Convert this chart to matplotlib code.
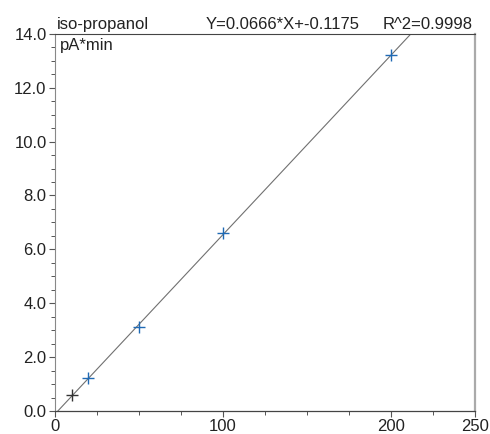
import matplotlib.pyplot as plt
from matplotlib.ticker import MultipleLocator, FixedLocator

plt.rcParams['font.family'] = ['Liberation Sans', 'DejaVu Sans']

# calibration data
amount = [10, 20, 50, 100, 200]
area = [0.60, 1.22, 3.12, 6.60, 13.20]
point_colors = ['#333333', '#1f6ab5', '#1f6ab5', '#1f6ab5', '#1f6ab5']
slope = 0.0666
offset = -0.1175
r2 = 0.9998
compound = 'iso-propanol'
unit = 'pA*min'
x_major = [0, 100, 200, 250]
y_major = [0, 2, 4, 6, 8, 10, 12, 14]


def main():
    fig = plt.figure(figsize=(4.9, 4.34), dpi=100)
    ax = fig.add_axes([0.112, 0.053, 0.857, 0.869])

    # regression line clipped to the plot box
    x0 = -offset / slope
    x1 = (14 - offset) / slope
    ax.plot([x0, x1], [slope * x0 + offset, slope * x1 + offset],
            color='#707070', lw=0.8, zorder=2)

    for x, y, c in zip(amount, area, point_colors):
        ax.plot(x, y, marker='+', ms=8.5, mew=1.0, color=c, ls='none', zorder=3)

    ax.set_xlim(0, 250)
    ax.set_ylim(0, 14)
    ax.xaxis.set_major_locator(FixedLocator(x_major))
    ax.xaxis.set_minor_locator(MultipleLocator(25))
    ax.yaxis.set_major_locator(FixedLocator(y_major))
    ax.yaxis.set_minor_locator(MultipleLocator(0.5))
    ax.set_yticklabels([f'{v:.1f}' for v in y_major])
    ax.set_xticklabels([str(v) for v in x_major])

    ax.tick_params(axis='both', which='major', labelsize=12, length=4,
                   width=0.8, color='#555555', labelcolor='#222222', pad=2)
    ax.tick_params(axis='both', which='minor', length=3, width=0.7,
                   color='#555555')

    ax.spines['top'].set_color('#444444')
    ax.spines['top'].set_linewidth(0.8)
    ax.spines['right'].set_color('#aaaaaa')
    ax.spines['right'].set_linewidth(1.6)
    ax.spines['bottom'].set_color('#444444')
    ax.spines['bottom'].set_linewidth(0.9)
    ax.spines['left'].set_color('#888888')
    ax.spines['left'].set_linewidth(0.8)

    ax.text(0.005, 1.006, compound, transform=ax.transAxes, fontsize=12,
            ha='left', va='bottom', color='#222222')
    ax.text(0.36, 1.006, f'Y={slope}*X+{offset}', transform=ax.transAxes,
            fontsize=12, ha='left', va='bottom', color='#222222')
    ax.text(0.995, 1.006, f'R^2={r2}', transform=ax.transAxes, fontsize=12,
            ha='right', va='bottom', color='#222222')
    ax.text(0.012, 0.988, unit, transform=ax.transAxes, fontsize=12,
            ha='left', va='top', color='#222222')

    fig.savefig('out.png', dpi=100)


if __name__ == '__main__':
    main()
